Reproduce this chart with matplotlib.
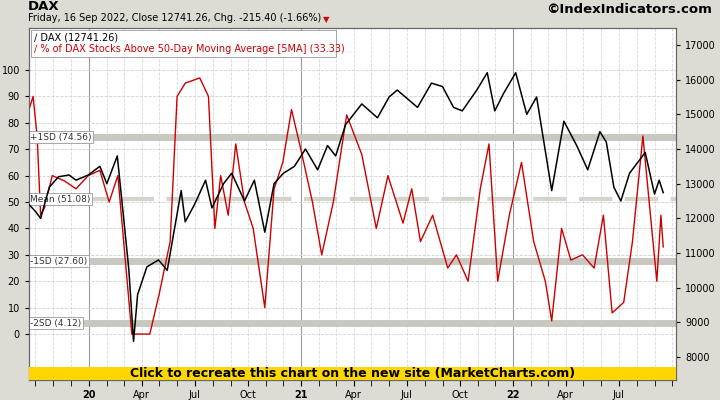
import matplotlib
matplotlib.use("Agg")
import matplotlib.pyplot as plt
import matplotlib.dates as mdates
import pandas as pd
from matplotlib.patches import Rectangle

dax_dates = ["2019-09-20","2019-10-01","2019-10-10","2019-10-25","2019-11-10","2019-11-28","2019-12-10","2019-12-31",
"2020-01-20","2020-02-01","2020-02-19","2020-03-01","2020-03-10","2020-03-18","2020-03-25","2020-04-10","2020-04-30",
"2020-05-15","2020-06-08","2020-06-15","2020-07-01","2020-07-20","2020-07-31","2020-08-20","2020-09-03","2020-09-25",
"2020-10-12","2020-10-30","2020-11-15","2020-12-01","2020-12-20","2021-01-08","2021-01-29","2021-02-15","2021-03-01",
"2021-03-18","2021-04-15","2021-05-12","2021-06-01","2021-06-15","2021-07-20","2021-08-13","2021-09-01","2021-09-20",
"2021-10-05","2021-10-30","2021-11-17","2021-11-30","2021-12-15","2022-01-05","2022-01-24","2022-02-10","2022-03-08",
"2022-03-29","2022-04-20","2022-05-09","2022-05-30","2022-06-10","2022-06-23","2022-07-05","2022-07-20","2022-08-16",
"2022-09-01","2022-09-09","2022-09-16"]
dax_vals = [12400,12200,12000,12900,13200,13250,13100,13250,13500,13000,13800,12000,10500,8450,9800,10600,10800,
10500,12800,11900,12400,13100,12300,13000,13300,12500,13100,11600,13000,13300,13500,14000,13400,14100,13800,
14700,15300,14900,15500,15700,15200,15900,15800,15200,15100,15700,16200,15100,15600,16200,15000,15500,12800,
14800,14100,13400,14500,14200,12900,12500,13300,13900,12700,13100,12741]

pct_dates = ["2019-09-20","2019-09-27","2019-10-04","2019-10-10","2019-10-17","2019-10-30","2019-11-20","2019-12-10",
"2019-12-31","2020-01-20","2020-02-05","2020-02-20","2020-03-05","2020-03-15","2020-04-15","2020-05-01","2020-05-20",
"2020-06-01","2020-06-15","2020-07-10","2020-07-25","2020-08-05","2020-08-15","2020-08-28","2020-09-10","2020-09-25",
"2020-10-10","2020-10-30","2020-11-15","2020-11-30","2020-12-15","2020-12-31","2021-01-20","2021-02-05","2021-02-25",
"2021-03-20","2021-04-15","2021-05-10","2021-05-30","2021-06-25","2021-07-10","2021-07-25","2021-08-15","2021-09-10",
"2021-09-25","2021-10-15","2021-11-05","2021-11-20","2021-12-05","2021-12-25","2022-01-15","2022-02-05","2022-02-25",
"2022-03-08","2022-03-25","2022-04-10","2022-04-30","2022-05-20","2022-06-05","2022-06-20","2022-07-10","2022-07-25",
"2022-08-12","2022-08-25","2022-09-05","2022-09-12","2022-09-16"]
pct_vals = [85,90,75,45,48,60,58,55,60,62,50,60,25,0,0,15,35,90,95,97,90,40,60,45,72,50,40,10,55,65,85,70,50,30,50,
83,68,40,60,42,55,35,45,25,30,20,55,72,20,45,65,35,20,5,40,28,30,25,45,8,12,35,75,45,20,45,33]

bands = [74.56, 51.08, 27.60, 4.12]
band_labels = ["+1SD (74.56)", "Mean (51.08)", "-1SD (27.60)", "-2SD (4.12)"]
left_ticks = list(range(0, 101, 10))
right_ticks = list(range(8000, 17001, 1000))

bg = "#dcdcd4"
fig = plt.figure(figsize=(7.2, 4.0), dpi=100, facecolor=bg)
ax = fig.add_axes([29/720, 20/400, 647/720, 352/400])
ax.set_facecolor("white")
ax.set_xlim(pd.Timestamp("2019-09-20"), pd.Timestamp("2022-10-08"))
ax.set_ylim(-17.4, 115.9)

for v, lab in zip(bands, band_labels):
    if lab.startswith("Mean"):
        ax.axhline(v, color="#d4d4cc", lw=3, ls=(0, (8, 3)), zorder=1)
    else:
        ax.axhline(v, color="#c8c8c0", lw=5, zorder=1)
    ax.text(pd.Timestamp("2019-09-22"), v, lab, fontsize=6.5, va="center", ha="left", color="#333",
            bbox=dict(facecolor="white", edgecolor="#999", pad=1.2, lw=0.6), zorder=5)

ax.set_yticks(left_ticks)
ax.tick_params(axis="y", labelsize=7, length=3, direction="out")
ax.grid(True, axis="y", color="#d0d0d0", ls="--", lw=0.6)
months = pd.date_range("2019-10-01", "2022-10-01", freq="MS")
for m in months:
    if m.month == 1:
        ax.axvline(m, color="#999", lw=0.8, zorder=0)
    else:
        ax.axvline(m, color="#d8d8d8", lw=0.6, ls="--", zorder=0)

ax.plot(pd.to_datetime(pct_dates), pct_vals, color="#cc0000", lw=1.0, zorder=3)

ax2 = ax.twinx()
ax2.set_ylim(7337, 17490)
ax2.set_yticks(right_ticks)
ax2.tick_params(axis="y", labelsize=7, length=3)
ax2.plot(pd.to_datetime(dax_dates), dax_vals, color="black", lw=1.1, zorder=4)

xt = pd.date_range("2020-01-01", "2022-07-01", freq="QS")
ax.set_xticks(xt)
ax.set_xticklabels([d.strftime("%y") if d.month == 1 else d.strftime("%b") for d in xt])
ax.xaxis.set_minor_locator(mdates.MonthLocator())
ax.tick_params(axis="x", labelsize=7, length=4, which="both")
for t, d in zip(ax.get_xticklabels(), xt):
    if d.month == 1:
        t.set_fontweight("bold")
for sp in list(ax.spines.values()) + list(ax2.spines.values()):
    sp.set_color("#666")

ax2.add_patch(Rectangle((0, 0), 1, 13/352, transform=ax.transAxes, facecolor="#ffd700",
                        edgecolor="none", zorder=10, clip_on=False))
ax2.text(0.5, 6.5/352, "Click to recreate this chart on the new site (MarketCharts.com)", transform=ax.transAxes,
         ha="center", va="center", fontsize=9, fontweight="bold", zorder=11)

fig.text(28/720, 1 - 0/400, "DAX", fontsize=9.5, fontweight="bold", va="top")
fig.text(28/720, 1 - 13/400, "Friday, 16 Sep 2022, Close 12741.26, Chg. -215.40 (-1.66%)", fontsize=7, va="top")
fig.text(323/720, 1 - 15/400, "\u25bc", fontsize=6, color="#cc0000", va="top")
fig.text(712/720, 1 - 3/400, "\u00a9IndexIndicators.com", fontsize=9.5, fontweight="bold", va="top", ha="right")

ax2.add_patch(Rectangle((2/647, 1 - 29/352), 305/647, 27/352, transform=ax.transAxes, facecolor="white",
                        edgecolor="#999", lw=0.6, zorder=6))
ax2.text(5/647, 1 - 4/352, "\u2215 DAX (12741.26)", transform=ax.transAxes, fontsize=7, va="top", zorder=7)
ax2.text(5/647, 1 - 16/352, "\u2215 % of DAX Stocks Above 50-Day Moving Average [5MA] (33.33)", transform=ax.transAxes,
         fontsize=7, va="top", color="#cc0000", zorder=7)

fig.savefig("out.png", dpi=100, facecolor=bg)
